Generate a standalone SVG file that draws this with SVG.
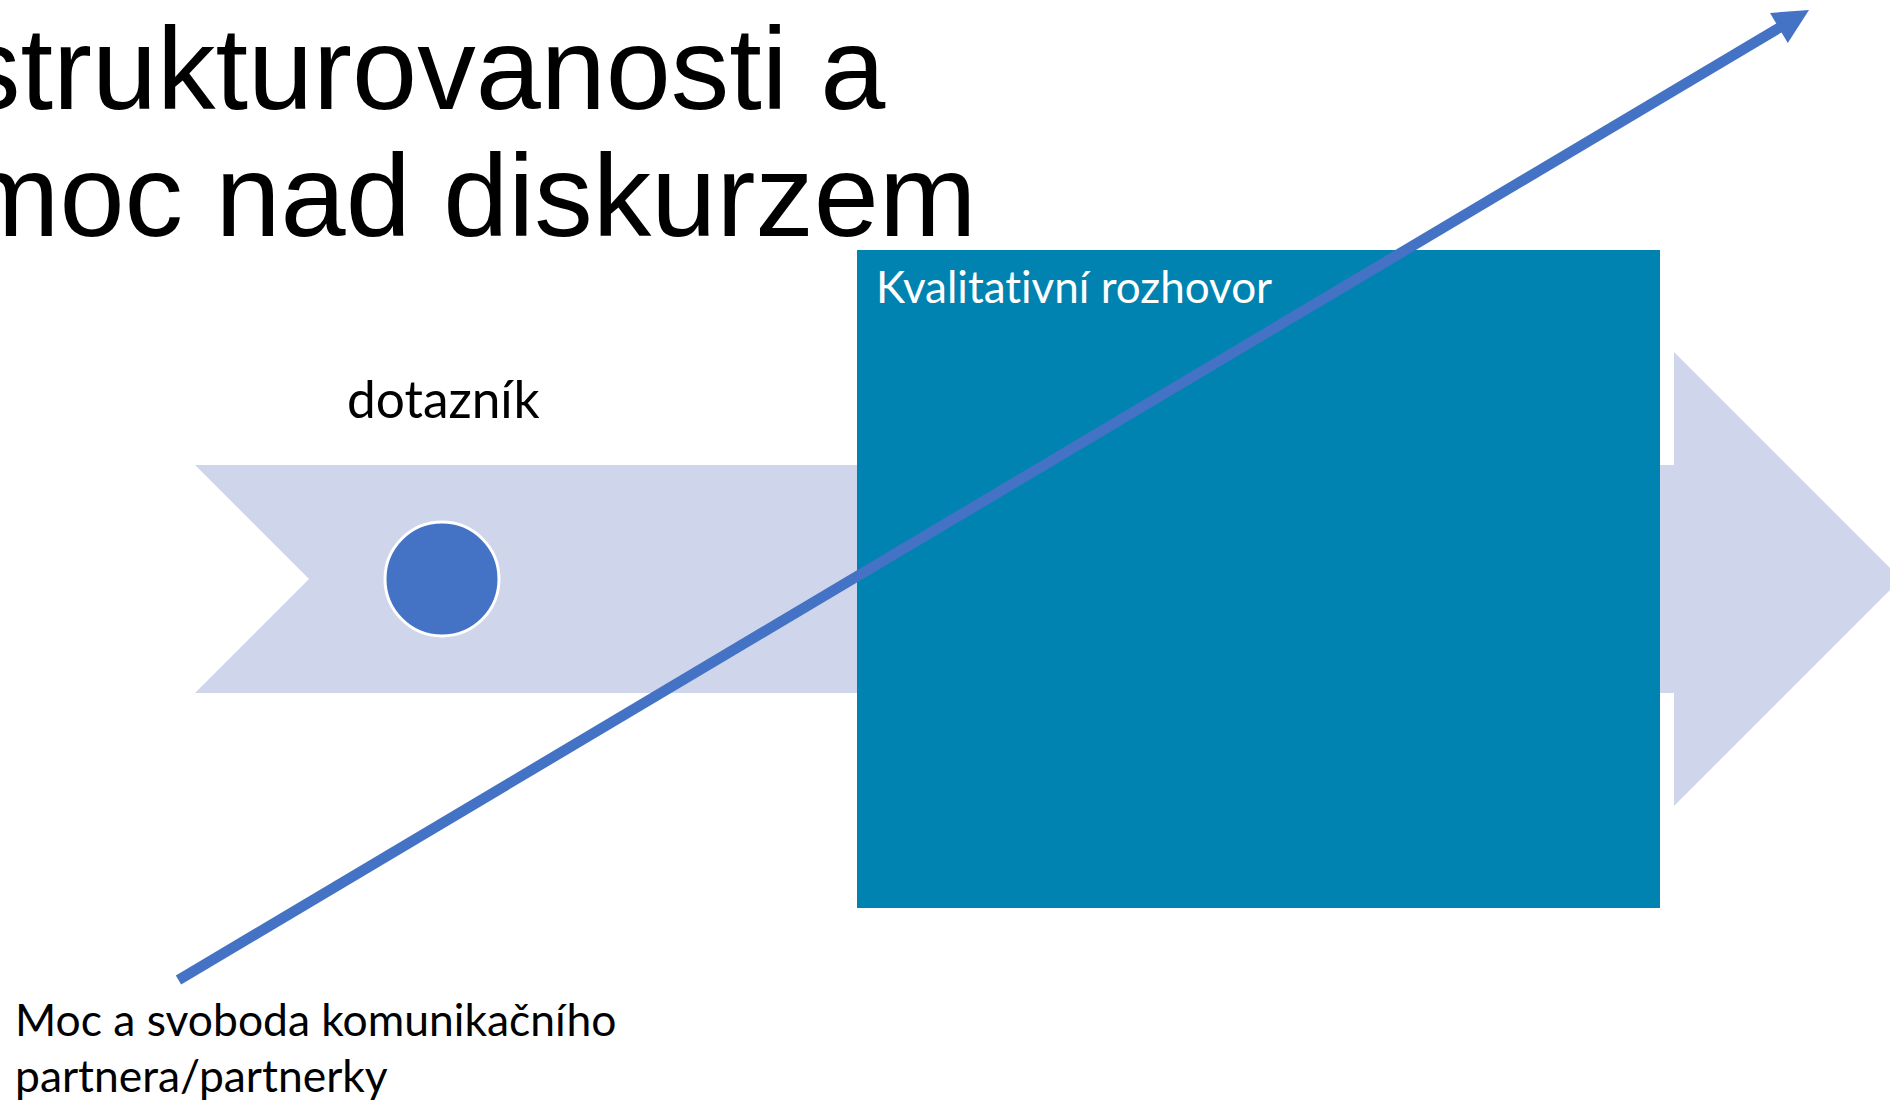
<svg xmlns="http://www.w3.org/2000/svg" width="1890" height="1101" viewBox="0 0 1890 1101">
<style>
.title{font-family:"Liberation Sans",Arial,sans-serif;font-size:117px;fill:#000}
.lbl{font-family:Lato,"Open Sans",sans-serif;fill:#000;font-variant-ligatures:none}
.band{fill:#CFD5EA}
.conn{stroke:#4472C4;stroke-width:10.5;fill:none;stroke-linecap:butt}
</style>
<rect width="1890" height="1101" fill="#fff"/>
<g id="title">
<text class="title" x="-38" y="109">strukturovanosti a</text>
<text class="title" x="-38" y="236">moc nad diskurzem</text>
</g>
<g id="band">
<polygon class="band" points="195,465 1674,465 1674,352 1901,579 1674,806 1674,693 195,693 309,579"/>
</g>
<g id="dotaznik">
<circle cx="442" cy="579" r="57" fill="#4472C4" stroke="#fff" stroke-width="3"/>
<text class="lbl" x="347" y="418" font-size="51.4">dotazník</text>
</g>
<g id="kvalitativni">
<rect x="857" y="250" width="803" height="658" fill="#0083B1"/>
<text class="lbl" x="876" y="303" font-size="44" style="fill:#fff">Kvalitativní rozhovor</text>
</g>
<g id="moc">
<text class="lbl" x="15" y="1036" font-size="44.4">Moc a svoboda komunikačního</text>
<text class="lbl" x="15" y="1092" font-size="44.4">partnera/partnerky</text>
</g>
<g id="connectors">
<line class="conn" x1="178.5" y1="980" x2="1781" y2="26.7"/>
<polygon points="1809,10 1770,12.9 1787.8,42.9" fill="#4472C4"/>
</g>
</svg>
